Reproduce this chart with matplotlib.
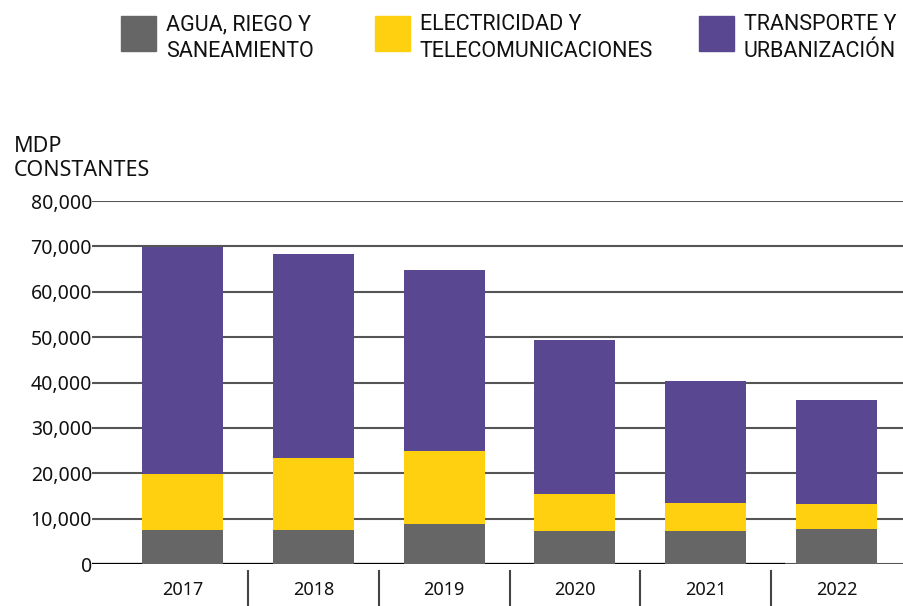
import matplotlib.pyplot as plt
from matplotlib.patches import Rectangle
from matplotlib.ticker import FuncFormatter

years = ['2017', '2018', '2019', '2020', '2021', '2022']
agua = [7400, 7600, 8900, 7300, 7300, 7700]
electricidad = [12500, 15800, 16000, 8200, 6200, 5600]
transporte = [50000, 45000, 39900, 33900, 26800, 22800]

series = ['AGUA, RIEGO Y\nSANEAMIENTO', 'ELECTRICIDAD Y\nTELECOMUNICACIONES', 'TRANSPORTE Y\nURBANIZACIÓN']
colors = ['#666666', '#FED010', '#594891']

plt.rcParams['font.family'] = ['Noto Sans', 'DejaVu Sans']

fig = plt.figure(figsize=(9.04, 6.06), dpi=100)
ax = fig.add_axes([92 / 904, 42 / 606, 812 / 904, 363 / 606])

x = list(range(len(years)))
bottom = [0] * len(years)
for vals, col in zip([agua, electricidad, transporte], colors):
    ax.bar(x, vals, width=0.62, bottom=bottom, color=col, zorder=2)
    bottom = [b + v for b, v in zip(bottom, vals)]

ax.set_ylim(0, 80000)
ax.set_xlim(-0.691, 5.515)
ax.set_yticks(range(0, 80001, 10000))
ax.yaxis.set_major_formatter(FuncFormatter(lambda v, p: f'{int(v):,}'))
ax.set_axisbelow(True)
ax.grid(axis='y', color='#555555', linewidth=1.5, zorder=0)
ax.axhline(0, xmax=0.852, color='black', linewidth=1.6, zorder=1)
for s in ax.spines.values():
    s.set_visible(False)
ax.tick_params(axis='y', length=0, pad=0, labelsize=14, labelcolor='#111111')
ax.tick_params(axis='x', length=0, pad=12, labelsize=13, labelcolor='#111111')
ax.set_xticks(x)
ax.set_xticklabels(years)

# separadores entre años bajo el eje
trans = ax.get_xaxis_transform()
for i in range(len(years) - 1):
    ax.plot([i + 0.5, i + 0.5], [-0.019, -0.12], color='#444444', linewidth=1.5,
            transform=trans, clip_on=False)

fig.text(14 / 904, 1 - 136 / 606, 'MDP\nCONSTANTES', fontsize=15.5, va='top', ha='left',
         linespacing=1.2, color='#111111')

# leyenda
legend_x = [121, 375, 699]
for lx, label, col in zip(legend_x, series, colors):
    fig.patches.append(Rectangle((lx / 904, 1 - 51 / 606), 35 / 904, 35 / 606,
                                 transform=fig.transFigure, color=col))
    fig.text((lx + 45) / 904, 1 - 14 / 606, label, fontsize=15.5, va='top', ha='left',
             family=['Roboto', 'DejaVu Sans'], linespacing=1.35,
             color='#111111')

fig.savefig('out.png', dpi=100)
